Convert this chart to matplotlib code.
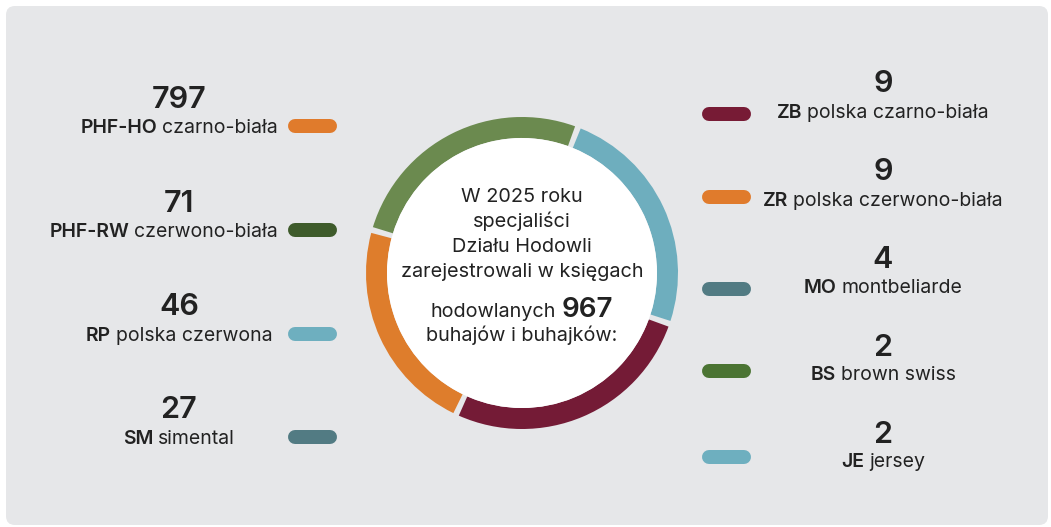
import matplotlib
matplotlib.use("Agg")
import matplotlib.pyplot as plt
from matplotlib.patches import Wedge, Circle, FancyBboxPatch

# breeds on the left side
left_codes = ["PHF-HO", "PHF-RW", "RP", "SM"]
left_names = ["czarno-biała", "czerwono-biała", "polska czerwona", "simental"]
left_counts = [797, 71, 46, 27]
left_colors = ["#e07b2c", "#3e5b2b", "#6eafbf", "#527b83"]

# breeds on the right side
right_codes = ["ZB", "ZR", "MO", "BS", "JE"]
right_names = ["polska czarno-biała", "polska czerwono-biała", "montbeliarde",
               "brown swiss", "jersey"]
right_counts = [9, 9, 4, 2, 2]
right_colors = ["#771b35", "#e07b2c", "#527b83", "#4b7433", "#6eafbf"]

# decorative ring around the summary (degrees per segment, clockwise)
ring_shares = [95, 88, 96, 81]
ring_colors = ["#6b8a4f", "#6eaebe", "#741b36", "#de7d2c"]

total = sum(left_counts) + sum(right_counts)
center_lines = ["W 2025 roku", "specjaliści", "Działu Hodowli",
                "zarejestrowali w księgach"]

W, H = 1051, 527
FONT = "Inter"
TXT = "#222222"
BG = "#e6e7e9"

fig = plt.figure(figsize=(W / 100, H / 100), dpi=100)
ax = fig.add_axes([0, 0, 1, 1])
ax.set_xlim(0, W)
ax.set_ylim(H, 0)
ax.axis("off")
fig.patch.set_facecolor("white")

ax.add_patch(FancyBboxPatch((6, 6), 1042, 519, boxstyle="round,pad=0,rounding_size=9",
                            fc=BG, ec="none"))

renderer = fig.canvas.get_renderer()


def mixed_line(x, y, parts, max_right=None):
    """parts: list of (text, weight, size); centered on x, baseline at y."""
    items = []
    for s, w, size in parts:
        t = ax.text(0, y, s, fontsize=size, fontweight=w, family=FONT,
                    color=TXT, va="baseline", ha="left")
        items.append(t)
    space = parts[0][2] * 100 / 72 * 0.26
    widths = [t.get_window_extent(renderer=renderer).width for t in items]
    full = sum(widths) + space * (len(items) - 1)
    x0 = x - full / 2
    if max_right is not None and x0 + full > max_right:
        x0 = max_right - full
    for t, w in zip(items, widths):
        t.set_x(x0)
        x0 += w + space


def pill(x0, x1, y, color):
    ax.plot([x0 + 7, x1 - 7], [y, y], color=color, lw=14 * 0.72,
            solid_capstyle="round")


LAB, NUM = 14, 22

# left column
left_num_y = [108, 212, 315, 418]
left_lab_y = [133, 237, 341, 444]
for code, name, n, c, ny, ly in zip(left_codes, left_names, left_counts, left_colors,
                                    left_num_y, left_lab_y):
    mixed_line(179, ly, [(code, "semibold", LAB), (name, "normal", LAB)], max_right=278)
    mixed_line(179, ny, [(str(n), "semibold", NUM)])
    pill(288, 337, ly - 7, c)

# right column
right_num_y = [92, 180, 268, 356, 443]
right_lab_y = [118, 206, 293, 380, 467]
right_bar_y = [114, 197, 289, 371, 457]
for code, name, n, c, ny, ly, by in zip(right_codes, right_names, right_counts,
                                        right_colors, right_num_y, right_lab_y,
                                        right_bar_y):
    mixed_line(883, ly, [(code, "semibold", LAB), (name, "normal", LAB)])
    mixed_line(883, ny, [(str(n), "semibold", NUM)])
    pill(702, 751, by, c)

# ring
cx, cy, R, ring_w, gap = 522, 273, 156, 21, 2.2
start = 164
for share, c in zip(ring_shares, ring_colors):
    th1 = -start + gap / 2
    th2 = -start + share - gap / 2
    ax.add_patch(Wedge((cx, cy), R, th1, th2, width=ring_w, fc=c, ec="none"))
    start -= share
ax.add_patch(Circle((cx, cy), R - ring_w, fc="white", ec="none"))

# summary text
CT = 14.3
for s, y in zip(center_lines, [202, 227, 252, 277]):
    mixed_line(cx, y, [(s, "normal", CT)])
mixed_line(cx, 317, [("hodowlanych", "normal", CT), (str(total), "semibold", 20)])
mixed_line(cx, 341, [("buhajów i buhajków:", "normal", CT)])

fig.savefig("out.png", dpi=100, facecolor="white")
